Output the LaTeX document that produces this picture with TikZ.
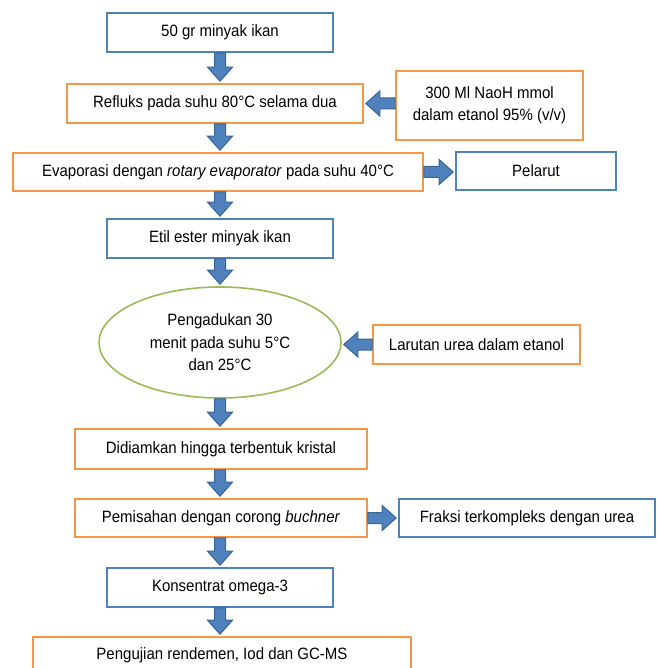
\documentclass[tikz,border=0pt]{standalone}
\usepackage{fontspec}
\setmainfont{Liberation Sans}[FakeStretch=0.915]
\usetikzlibrary{calc,shapes.geometric}
\definecolor{boxblue}{HTML}{4F81BD}
\definecolor{boxorange}{HTML}{F79646}
\definecolor{boxgreen}{HTML}{9BBB59}
\definecolor{arrowline}{HTML}{3A6596}
% block arrow from #1 to #2 (shaft 11pt, head 25pt wide)
\newcommand{\blockarrow}[2]{%
  \coordinate (ba-s) at (#1);
  \coordinate (ba-e) at (#2);
  \coordinate (ba-t) at ($(ba-e)!2pt!(ba-s)$);
  \coordinate (ba-b) at ($(ba-t)!14pt!(ba-s)$);
  \draw[barrow] ($(ba-s)!5.5pt!90:(ba-t)$) -- ($(ba-b)!5.5pt!90:(ba-t)$)
    -- ($(ba-b)!12.5pt!90:(ba-t)$) -- (ba-t) -- ($(ba-b)!12.5pt!-90:(ba-t)$)
    -- ($(ba-b)!5.5pt!-90:(ba-t)$) -- ($(ba-s)!5.5pt!-90:(ba-t)$) -- cycle;}
\begin{document}
\begin{tikzpicture}[x=1pt, y=-1pt,
    box/.style={draw, line width=1.6pt, minimum height=39pt, inner sep=2pt,
      font=\fontsize{16.4}{22}\selectfont, align=center},
    bluebox/.style={box, draw=boxblue},
    orangebox/.style={box, draw=boxorange},
    barrow/.style={fill=boxblue, draw=arrowline, line width=1pt}]
\useasboundingbox (0,0) rectangle (657,668);
\clip (0,0) rectangle (657,668);
    % main column
 \node[bluebox, minimum width=226pt] (minyak) at (220,32.5) {50 gr minyak ikan};
 \node[orangebox, minimum width=296pt] (refluks) at (215,103.5) {Refluks pada suhu 80°C selama dua};
 \node[orangebox, minimum width=410pt, minimum height=38pt] (evap) at (218,172) {Evaporasi dengan \textit{rotary evaporator} pada suhu 40°C};
 \node[bluebox, minimum width=226pt] (etil) at (220,238.5) {Etil ester minyak ikan};
 \node[draw=boxgreen, line width=1.6pt, ellipse, minimum width=242pt, minimum height=111pt,
   inner sep=0pt, align=center, font=\fontsize{16.4}{22.5}\selectfont] (aduk) at (220,342.5)
   {Pengadukan 30\\menit pada suhu 5°C\\dan 25°C};
 \node[orangebox, minimum width=292pt, minimum height=40pt] (diam) at (221,449) {Didiamkan hingga terbentuk kristal};
 \node[orangebox, minimum width=292pt, minimum height=38pt] (pisah) at (221,518) {Pemisahan dengan corong \textit{buchner}};
 \node[bluebox, minimum width=226pt] (omega) at (220,587.5) {Konsentrat omega-3};
 \node[orangebox, minimum width=378pt, minimum height=39pt, text depth=6pt] (uji) at (222,656.5) {Pengujian rendemen, Iod dan GC-MS};
    % side boxes
 \node[orangebox, minimum width=187pt, minimum height=69pt] (naoh) at (489.5,105.5) {300 Ml NaoH mmol\\dalam etanol 95\% (v/v)};
 \node[bluebox, minimum width=160pt, minimum height=38pt] (pelarut) at (536,171) {Pelarut};
 \node[orangebox, minimum width=207pt] (urea) at (476.5,344.5) {Larutan urea dalam etanol};
 \node[bluebox, minimum width=256pt, minimum height=38pt] (fraksi) at (527,518) {Fraksi terkompleks dengan urea};
    % arrows
 \blockarrow{minyak.south}{minyak.south |- refluks.north}
 \blockarrow{minyak.south |- refluks.south}{minyak.south |- evap.north}
 \blockarrow{minyak.south |- evap.south}{minyak.south |- etil.north}
 \blockarrow{minyak.south |- etil.south}{minyak.south |- aduk.north}
 \blockarrow{minyak.south |- aduk.south}{minyak.south |- diam.north}
 \blockarrow{minyak.south |- diam.south}{minyak.south |- pisah.north}
 \blockarrow{minyak.south |- pisah.south}{minyak.south |- omega.north}
 \blockarrow{minyak.south |- omega.south}{minyak.south |- uji.north}
 \blockarrow{naoh.west |- refluks.east}{refluks.east}
 \blockarrow{evap.east}{evap.east -| pelarut.west}
 \blockarrow{urea.west}{aduk.east |- urea.west}
 \blockarrow{pisah.east}{pisah.east -| fraksi.west}
\end{tikzpicture}
\end{document}
